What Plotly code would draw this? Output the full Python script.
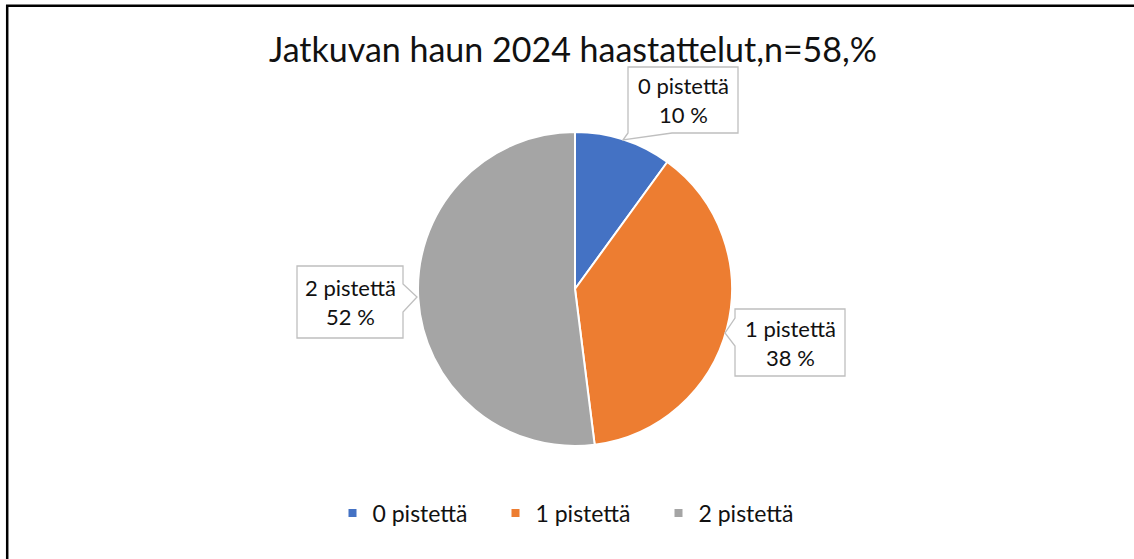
import plotly.graph_objects as go

categories = ["0 pistettä", "1 pistettä", "2 pistettä"]
values = [10, 38, 52]
colors = ["#4472C4", "#ED7D31", "#A5A5A5"]
title_text = "Jatkuvan haun 2024 haastattelut,n=58,%"

W, H = 1134, 559
FONT = "Lato"


def px(x):
    return x / W


def py(y):
    return 1 - y / H


fig = go.Figure()
fig.add_trace(go.Pie(
    labels=categories, values=values, sort=False, direction="clockwise",
    rotation=0, marker=dict(colors=colors, line=dict(color="white", width=2)),
    textinfo="none", hoverinfo="label+percent", showlegend=False,
    domain=dict(x=[px(418), px(732)], y=[py(446), py(132)]),
))

for c, col in zip(categories, colors):
    fig.add_trace(go.Scatter(x=[None], y=[None], mode="markers", name=c,
                             marker=dict(symbol="square", size=8, color=col),
                             showlegend=True))

callouts = [
    dict(box=(628, 67, 738, 133), side="bottom", tip=(623, 140), base=(628, 672)),
    dict(box=(735, 309, 845, 376), side="left", tip=(725, 333), base=(318, 346)),
    dict(box=(297, 266, 403, 338), side="right", tip=(417, 297), base=(284, 312)),
]
shapes = []
annotations = []
for c, v, co in zip(categories, values, callouts):
    x0, y0, x1, y1 = co["box"]
    tx, ty = co["tip"]
    b0, b1 = co["base"]
    if co["side"] == "bottom":
        pts = [(x0, y0), (x1, y0), (x1, y1), (b1, y1), (tx, ty), (b0, y1), (x0, y1)]
    elif co["side"] == "left":
        pts = [(x0, y0), (x1, y0), (x1, y1), (x0, y1), (x0, b1), (tx, ty), (x0, b0)]
    else:
        pts = [(x0, y0), (x1, y0), (x1, b0), (tx, ty), (x1, b1), (x1, y1), (x0, y1)]
    path = "M " + " L ".join(f"{px(a)},{py(b)}" for a, b in pts) + " Z"
    shapes.append(dict(type="path", xref="paper", yref="paper", path=path,
                       fillcolor="white", line=dict(color="#BFBFBF", width=1.3),
                       layer="above"))
    annotations.append(dict(xref="paper", yref="paper", x=px((x0 + x1) / 2),
                            y=py((y0 + y1) / 2), text=f"{c}<br>{v} %",
                            showarrow=False, xanchor="center", yanchor="middle",
                            font=dict(family=FONT, size=22, color="#111111")))

shapes.append(dict(type="rect", xref="paper", yref="paper",
                   x0=px(7.2), y0=py(5.8), x1=px(W + 30), y1=py(H + 30),
                   line=dict(color="black", width=2.5), fillcolor="rgba(0,0,0,0)",
                   layer="above"))

fig.update_layout(
    width=W, height=H,
    margin=dict(l=0, r=0, t=0, b=0),
    paper_bgcolor="white", plot_bgcolor="white",
    title=dict(text=title_text, x=px(573), y=py(50), xanchor="center",
               yanchor="middle", font=dict(family=FONT, size=34, color="#111111")),
    xaxis=dict(visible=False), yaxis=dict(visible=False),
    legend=dict(orientation="h", x=px(577), y=py(513), xanchor="center",
                yanchor="middle", font=dict(family=FONT, size=23, color="#111111"),
                itemwidth=30, entrywidth=118, entrywidthmode="pixels"),
    shapes=shapes, annotations=annotations,
)

fig.write_html("out.html",
               config={"displayModeBar": False},
               post_script="document.body.style.margin='0px';"
                           "document.body.style.overflow='hidden';")
